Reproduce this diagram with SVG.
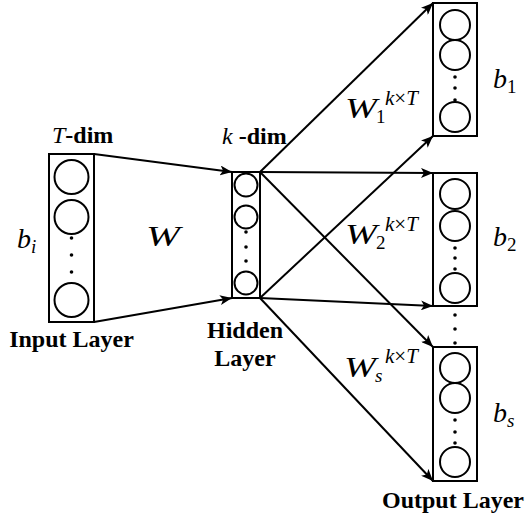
<svg xmlns="http://www.w3.org/2000/svg" width="528" height="521" viewBox="0 0 528 521">
<style>
.box{fill:none;stroke:#000;stroke-width:2}
.n{fill:none;stroke:#000;stroke-width:2}
.d{fill:#000}
.c{stroke:#000;stroke-width:2;fill:none;marker-end:url(#ah)}
.lbl{font-family:"Liberation Serif","Times New Roman",serif;font-weight:bold;font-size:24px;fill:#000}
.it{font-family:"Liberation Serif","Times New Roman",serif;font-style:italic;fill:#000}
.rm{font-family:"Liberation Serif","Times New Roman",serif;fill:#000}
</style>
<defs>
<marker id="ah" markerUnits="userSpaceOnUse" markerWidth="13" markerHeight="10" refX="12" refY="5" orient="auto">
<path d="M0,0 L12,5 L0,10 L3,5 z" fill="#000"/>
</marker>
</defs>
<rect width="528" height="521" fill="#fff"/>
<g id="connectors">
<line class="c" x1="94" y1="154" x2="232" y2="172"/>
<line class="c" x1="94" y1="322" x2="232" y2="298"/>
<line class="c" x1="260" y1="172" x2="433" y2="3"/>
<line class="c" x1="260" y1="172" x2="433" y2="173"/>
<line class="c" x1="260" y1="172" x2="433" y2="347"/>
<line class="c" x1="260" y1="298" x2="433" y2="136"/>
<line class="c" x1="260" y1="298" x2="433" y2="306"/>
<line class="c" x1="260" y1="298" x2="433" y2="481"/>
</g>
<g id="input-layer">
<rect class="box" x="49" y="154" width="45" height="168"/>
<circle class="n" cx="71.5" cy="177" r="17"/>
<circle class="n" cx="71.5" cy="217" r="17"/>
<circle class="d" cx="71.5" cy="238" r="1.8"/>
<circle class="d" cx="71.5" cy="255" r="1.8"/>
<circle class="d" cx="71.5" cy="272" r="1.8"/>
<circle class="n" cx="71.5" cy="300" r="17"/>
<text class="lbl" x="52" y="143"><tspan class="it" font-weight="normal">T</tspan>-dim</text>
<text class="it" font-size="28" x="17" y="248">b<tspan font-size="19" dy="5">i</tspan></text>
<text class="lbl" x="71.5" y="347" text-anchor="middle">Input Layer</text>
</g>
<text id="w-label" class="it" font-size="29" x="146" y="246" textLength="34" lengthAdjust="spacingAndGlyphs">W</text>
<g id="hidden-layer">
<rect class="box" x="232" y="172" width="28" height="126"/>
<circle class="n" cx="246" cy="185" r="11.5"/>
<circle class="n" cx="246" cy="217" r="11.5"/>
<circle class="d" cx="246" cy="232" r="1.8"/>
<circle class="d" cx="246" cy="247" r="1.8"/>
<circle class="d" cx="246" cy="261" r="1.8"/>
<circle class="n" cx="246" cy="283" r="11.5"/>
<text class="lbl" x="222" y="144"><tspan class="it" font-weight="normal">k</tspan> -dim</text>
<text class="lbl" x="245" y="338" text-anchor="middle">Hidden</text>
<text class="lbl" x="245" y="366" text-anchor="middle">Layer</text>
</g>
<g id="output-1">
<rect class="box" x="433" y="3" width="44" height="133"/>
<circle class="n" cx="455" cy="25" r="15"/>
<circle class="n" cx="455" cy="55" r="15"/>
<circle class="d" cx="455" cy="77" r="1.8"/>
<circle class="d" cx="455" cy="88" r="1.8"/>
<circle class="d" cx="455" cy="100" r="1.8"/>
<circle class="n" cx="455" cy="117" r="15"/>
<text class="it" font-size="28" x="493" y="88">b<tspan class="rm" font-style="normal" font-size="19" dy="5">1</tspan></text>
<text class="it" font-size="29" x="345" y="118" textLength="32" lengthAdjust="spacingAndGlyphs">W</text>
<text class="rm" font-size="19" x="376" y="123">1</text>
<text class="it" font-size="21" x="385" y="105">k<tspan class="rm" font-style="normal">×</tspan>T</text>
</g>
<g id="output-2">
<rect class="box" x="433" y="173" width="44" height="133"/>
<circle class="n" cx="455" cy="194" r="15"/>
<circle class="n" cx="455" cy="226" r="15"/>
<circle class="d" cx="455" cy="248" r="1.8"/>
<circle class="d" cx="455" cy="258" r="1.8"/>
<circle class="d" cx="455" cy="269" r="1.8"/>
<circle class="n" cx="455" cy="288" r="15"/>
<text class="it" font-size="28" x="493" y="246">b<tspan class="rm" font-style="normal" font-size="19" dy="5">2</tspan></text>
<text class="it" font-size="29" x="345" y="244" textLength="32" lengthAdjust="spacingAndGlyphs">W</text>
<text class="rm" font-size="19" x="376" y="249">2</text>
<text class="it" font-size="21" x="385" y="231">k<tspan class="rm" font-style="normal">×</tspan>T</text>
</g>
<g id="between-dots">
<circle class="d" cx="455" cy="315" r="1.8"/>
<circle class="d" cx="455" cy="329" r="1.8"/>
<circle class="d" cx="455" cy="343" r="1.8"/>
</g>
<g id="output-s">
<rect class="box" x="433" y="347" width="44" height="134"/>
<circle class="n" cx="455" cy="368" r="15"/>
<circle class="n" cx="455" cy="398" r="15"/>
<circle class="d" cx="455" cy="420" r="1.8"/>
<circle class="d" cx="455" cy="432" r="1.8"/>
<circle class="d" cx="455" cy="443" r="1.8"/>
<circle class="n" cx="455" cy="462" r="15"/>
<text class="it" font-size="28" x="493" y="422">b<tspan font-size="19" dy="5">s</tspan></text>
<text class="it" font-size="29" x="344" y="377" textLength="32" lengthAdjust="spacingAndGlyphs">W</text>
<text class="it" font-size="19" x="375" y="382">s</text>
<text class="it" font-size="21" x="385" y="363">k<tspan class="rm" font-style="normal">×</tspan>T</text>
<text class="lbl" x="453" y="508" text-anchor="middle">Output Layer</text>
</g>
</svg>
